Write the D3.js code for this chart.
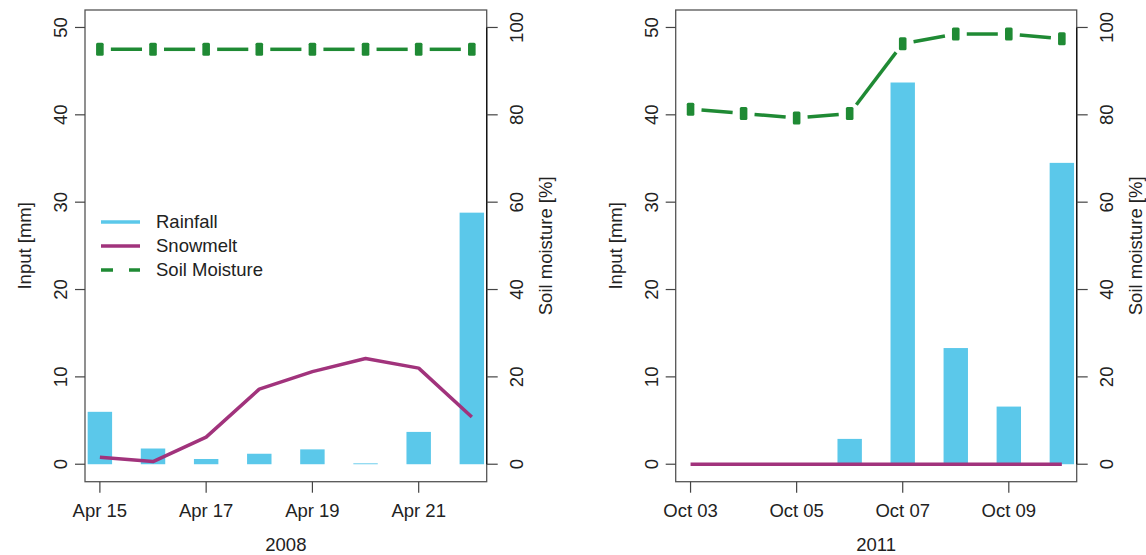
<!DOCTYPE html>
<html>
<head>
<meta charset="utf-8">
<script src="https://cdn.jsdelivr.net/npm/d3@7"></script>
<style>
  body { margin: 0; background: #fff; }
  text { font-family: "Liberation Sans", Arial, sans-serif; fill: #222; }
</style>
</head>
<body>
<div id="chart"></div>
<script>
// 2008 panel
const dates2008 = ["2008-04-15","2008-04-16","2008-04-17","2008-04-18","2008-04-19","2008-04-20","2008-04-21","2008-04-22"];
const rain2008 = [6.0, 1.8, 0.6, 1.2, 1.7, 0.1, 3.7, 28.8];
const snow2008 = [0.8, 0.3, 3.1, 8.6, 10.6, 12.1, 11.0, 5.4];
const soil2008 = [95, 95, 95, 95, 95, 95, 95, 95];
const ticks2008 = ["2008-04-15","2008-04-17","2008-04-19","2008-04-21"];

// 2011 panel
const dates2011 = ["2011-10-03","2011-10-04","2011-10-05","2011-10-06","2011-10-07","2011-10-08","2011-10-09","2011-10-10"];
const rain2011 = [0, 0, 0, 2.9, 43.7, 13.3, 6.6, 34.5];
const snow2011 = [0, 0, 0, 0, 0, 0, 0, 0];
const soil2011 = [81.3, 80.3, 79.3, 80.3, 96.3, 98.5, 98.5, 97.4];
const ticks2011 = ["2011-10-03","2011-10-05","2011-10-07","2011-10-09"];

const inputTicks = [0, 10, 20, 30, 40, 50];
const soilTicks = [0, 20, 40, 60, 80, 100];
const legendItems = ["Rainfall", "Snowmelt", "Soil Moisture"];

const rainColor = "#5bc8ea", snowColor = "#a1337c", soilColor = "#1f8a34";
const fs = 18.5;

const svg = d3.select("#chart").append("svg").attr("width", 1146).attr("height", 555);
const parse = d3.utcParse("%Y-%m-%d");
const DAY = 86400000;

function panel(left, right, dates, rain, snow, soil, ticks, fmt, year, legend) {
    const top = 10, bottom = 481.7;
    const d = dates.map(parse);
    const span = d[d.length-1] - d[0];
    const x = d3.scaleUtc().domain([+d[0] - span*0.04, +d[d.length-1] + span*0.04]).range([left, right]);
    const y = d3.scaleLinear().domain([-2, 52]).range([bottom, top]);
    const y2 = d3.scaleLinear().domain([-4, 104]).range([bottom, top]);
    const g = svg.append("g");

    // rainfall bars
    const bw = x(+d[0] + 0.46*DAY) - x(d[0]);
    g.selectAll("rect.bar").data(rain).enter().append("rect")
        .attr("x", (v,i) => x(d[i]) - bw/2)
        .attr("y", v => y(v))
        .attr("width", bw)
        .attr("height", v => y(0) - y(v))
        .attr("fill", rainColor);

    // snowmelt
    g.append("path").datum(snow)
        .attr("d", d3.line().x((v,i) => x(d[i])).y(v => y(v)))
        .attr("fill", "none").attr("stroke", snowColor).attr("stroke-width", 3.5)
        .attr("stroke-linejoin", "round");

    // soil moisture: segments with gaps around the markers
    const pts = soil.map((v,i) => [x(d[i]), y2(v)]);
    const gap = 11;
    for (let i = 0; i < pts.length-1; i++) {
        const [x1,y1] = pts[i], [x2,yb] = pts[i+1];
        const len = Math.hypot(x2-x1, yb-y1);
        const ux = (x2-x1)/len, uy = (yb-y1)/len;
        g.append("line")
            .attr("x1", x1 + ux*gap).attr("y1", y1 + uy*gap)
            .attr("x2", x2 - ux*gap).attr("y2", yb - uy*gap)
            .attr("stroke", soilColor).attr("stroke-width", 3.5);
    }
    g.selectAll("rect.mk").data(pts).enter().append("rect")
        .attr("x", p => p[0]-3.8).attr("y", p => p[1]-6.5)
        .attr("width", 7.6).attr("height", 13).attr("rx", 1.5)
        .attr("fill", soilColor);

    // box
    g.append("rect").attr("x", left).attr("y", top).attr("width", right-left).attr("height", bottom-top)
        .attr("fill", "none").attr("stroke", "#555").attr("stroke-width", 1.3);

    // left axis
    const la = g.append("g");
    la.selectAll("line").data(inputTicks).enter().append("line")
        .attr("x1", left-10).attr("x2", left).attr("y1", v => y(v)).attr("y2", v => y(v))
        .attr("stroke", "#444").attr("stroke-width", 1.2);
    la.selectAll("text").data(inputTicks).enter().append("text")
        .attr("transform", v => `translate(${left-24},${y(v)}) rotate(-90)`)
        .attr("text-anchor", "middle").attr("dy", "0.35em").attr("font-size", fs).text(v => v);
    g.append("text").attr("transform", `translate(${left-60},${(top+bottom)/2}) rotate(-90)`)
        .attr("text-anchor", "middle").attr("dy", "0.35em").attr("font-size", fs).text("Input [mm]");

    // right axis
    const ra = g.append("g");
    ra.append("line").attr("x1", right).attr("x2", right).attr("y1", y2(0)).attr("y2", y2(100))
        .attr("stroke", "#111").attr("stroke-width", 1.3);
    ra.selectAll("line.t").data(soilTicks).enter().append("line")
        .attr("x1", right).attr("x2", right+11).attr("y1", v => y2(v)).attr("y2", v => y2(v))
        .attr("stroke", "#444").attr("stroke-width", 1.2);
    ra.selectAll("text").data(soilTicks).enter().append("text")
        .attr("transform", v => `translate(${right+30},${y2(v)}) rotate(-90)`)
        .attr("text-anchor", "middle").attr("dy", "0.35em").attr("font-size", fs).text(v => v);
    g.append("text").attr("transform", `translate(${right+59},${(top+bottom)/2}) rotate(-90)`)
        .attr("text-anchor", "middle").attr("dy", "0.35em").attr("font-size", fs).text("Soil moisture [%]");

    // bottom axis
    const ba = g.append("g");
    ba.selectAll("line").data(ticks.map(parse)).enter().append("line")
        .attr("x1", t => x(t)).attr("x2", t => x(t)).attr("y1", bottom).attr("y2", bottom+11)
        .attr("stroke", "#444").attr("stroke-width", 1.2);
    ba.selectAll("text").data(ticks.map(parse)).enter().append("text")
        .attr("x", t => x(t)).attr("y", 516.5).attr("text-anchor", "middle").attr("font-size", fs)
        .text(t => fmt(t));
    g.append("text").attr("x", (left+right)/2).attr("y", 551).attr("text-anchor", "middle")
        .attr("font-size", fs).text(year);

    if (legend) {
        const colors = [rainColor, snowColor, soilColor];
        const lg = g.append("g");
        legendItems.forEach((name, i) => {
            const yy = 222 + i*24;
            if (i < 2) {
                lg.append("line").attr("x1", 101).attr("x2", 140).attr("y1", yy).attr("y2", yy)
                    .attr("stroke", colors[i]).attr("stroke-width", 3.5);
            } else {
                lg.append("line").attr("x1", 101).attr("x2", 140).attr("y1", yy).attr("y2", yy)
                    .attr("stroke", colors[i]).attr("stroke-width", 3.5).attr("stroke-dasharray", "12,16");
            }
            lg.append("text").attr("x", 156).attr("y", yy).attr("dy", "0.35em")
                .attr("font-size", fs).text(name);
        });
    }
}

const fmt = d3.utcFormat("%b %d");
panel(85, 486.7, dates2008, rain2008, snow2008, soil2008, ticks2008, fmt, "2008", true);
panel(675.7, 1076.7, dates2011, rain2011, snow2011, soil2011, ticks2011, fmt, "2011", false);
</script>
</body>
</html>
